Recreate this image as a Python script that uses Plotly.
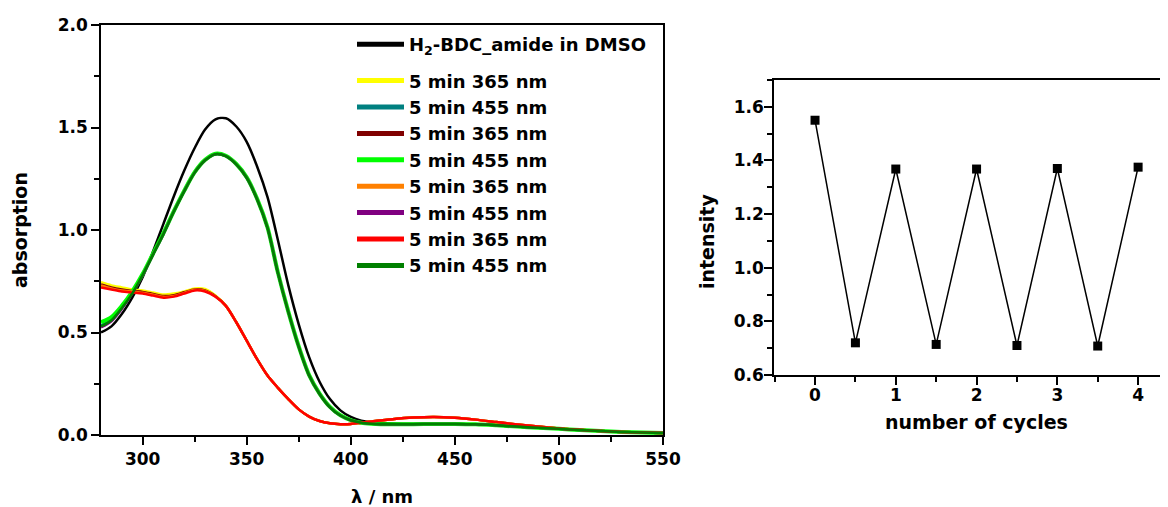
import plotly.graph_objects as go

# ---------------- data ----------------
wavelength = [280, 285, 290, 295, 300, 305, 310, 315, 320, 325, 330, 335, 340, 345, 350,
              355, 360, 365, 370, 375, 380, 385, 390, 395, 400, 405, 410, 420, 430, 440,
              450, 460, 470, 480, 490, 500, 510, 520, 530, 540, 550]

abs_dmso = [0.50, 0.53, 0.59, 0.67, 0.77, 0.895, 1.03, 1.165, 1.29, 1.40, 1.49, 1.54, 1.545, 1.505, 1.43,
            1.31, 1.16, 0.95, 0.73, 0.54, 0.38, 0.26, 0.175, 0.12, 0.088, 0.07, 0.062, 0.056, 0.055, 0.055,
            0.055, 0.052, 0.047, 0.041, 0.035, 0.030, 0.024, 0.019, 0.015, 0.012, 0.010]

abs_365_a = [0.745, 0.73, 0.72, 0.71, 0.705, 0.695, 0.685, 0.69, 0.70, 0.715, 0.712, 0.68, 0.63, 0.55, 0.46,
             0.37, 0.29, 0.23, 0.175, 0.125, 0.09, 0.068, 0.057, 0.053, 0.054, 0.06, 0.066, 0.077, 0.085, 0.088,
             0.084, 0.075, 0.063, 0.051, 0.041, 0.032, 0.025, 0.020, 0.015, 0.012, 0.010]
abs_455_a = [0.535, 0.565, 0.625, 0.695, 0.78, 0.88, 0.98, 1.09, 1.19, 1.28, 1.34, 1.37, 1.36, 1.32, 1.255,
             1.15, 1.01, 0.79, 0.60, 0.43, 0.29, 0.20, 0.135, 0.095, 0.072, 0.06, 0.055, 0.052, 0.053, 0.054,
             0.054, 0.052, 0.047, 0.041, 0.035, 0.030, 0.024, 0.019, 0.015, 0.012, 0.010]
abs_365_b = [0.735, 0.72, 0.71, 0.703, 0.698, 0.688, 0.678, 0.682, 0.696, 0.71, 0.705, 0.677, 0.63, 0.55, 0.46,
             0.37, 0.29, 0.23, 0.175, 0.125, 0.09, 0.068, 0.057, 0.053, 0.054, 0.06, 0.066, 0.077, 0.085, 0.088,
             0.084, 0.075, 0.063, 0.051, 0.041, 0.032, 0.025, 0.020, 0.015, 0.012, 0.010]
abs_455_b = [0.55, 0.575, 0.63, 0.70, 0.785, 0.885, 0.985, 1.092, 1.192, 1.282, 1.342, 1.372, 1.362, 1.322, 1.257,
             1.152, 1.012, 0.792, 0.602, 0.432, 0.292, 0.202, 0.137, 0.096, 0.073, 0.06, 0.055, 0.052, 0.053, 0.054,
             0.054, 0.052, 0.047, 0.041, 0.035, 0.030, 0.024, 0.019, 0.015, 0.012, 0.010]
abs_365_c = [0.73, 0.715, 0.705, 0.70, 0.694, 0.684, 0.674, 0.678, 0.693, 0.708, 0.703, 0.676, 0.63, 0.55, 0.46,
             0.37, 0.29, 0.23, 0.175, 0.125, 0.09, 0.068, 0.057, 0.053, 0.054, 0.06, 0.066, 0.077, 0.085, 0.088,
             0.084, 0.075, 0.063, 0.051, 0.041, 0.032, 0.025, 0.020, 0.015, 0.012, 0.010]
abs_455_c = [0.525, 0.555, 0.615, 0.688, 0.778, 0.88, 0.98, 1.09, 1.19, 1.28, 1.34, 1.37, 1.36, 1.32, 1.255,
             1.15, 1.01, 0.79, 0.60, 0.43, 0.29, 0.20, 0.135, 0.095, 0.072, 0.06, 0.055, 0.052, 0.053, 0.054,
             0.054, 0.052, 0.047, 0.041, 0.035, 0.030, 0.024, 0.019, 0.015, 0.012, 0.010]
abs_365_d = [0.72, 0.71, 0.70, 0.695, 0.69, 0.68, 0.67, 0.675, 0.69, 0.705, 0.70, 0.675, 0.63, 0.55, 0.46,
             0.37, 0.29, 0.23, 0.175, 0.125, 0.09, 0.068, 0.057, 0.053, 0.054, 0.06, 0.066, 0.077, 0.085, 0.088,
             0.084, 0.075, 0.063, 0.051, 0.041, 0.032, 0.025, 0.020, 0.015, 0.012, 0.010]
abs_455_d = [0.53, 0.56, 0.62, 0.69, 0.78, 0.88, 0.98, 1.09, 1.19, 1.28, 1.34, 1.37, 1.36, 1.32, 1.255,
             1.15, 1.01, 0.79, 0.60, 0.43, 0.29, 0.20, 0.135, 0.095, 0.072, 0.06, 0.055, 0.052, 0.053, 0.054,
             0.054, 0.052, 0.047, 0.041, 0.035, 0.030, 0.024, 0.019, 0.015, 0.012, 0.010]

series_names = ["H<sub>2</sub>-BDC_amide in DMSO", "5 min 365 nm", "5 min 455 nm", "5 min 365 nm",
                "5 min 455 nm", "5 min 365 nm", "5 min 455 nm", "5 min 365 nm", "5 min 455 nm"]
series_values = [abs_dmso, abs_365_a, abs_455_a, abs_365_b, abs_455_b, abs_365_c, abs_455_c, abs_365_d, abs_455_d]
series_colors = ["#000000", "#FFFF00", "#008080", "#800000", "#00FF00", "#FF8000", "#800080", "#FF0000", "#008000"]
series_widths = [2.5, 2.5, 2.5, 2.5, 4, 2.5, 2.5, 2.5, 2.5]

cycles = [0, 0.5, 1, 1.5, 2, 2.5, 3, 3.5, 4]
intensity = [1.55, 0.72, 1.368, 0.714, 1.368, 0.71, 1.37, 0.708, 1.375]

# ---------------- figure ----------------
OFF = 8                      # page body margin
W, H = 1168 - OFF, 507 - OFF
FONT = "DejaVu Sans, Liberation Sans, sans-serif"

fig = go.Figure()
for i, (name, vals, col, lw) in enumerate(zip(series_names, series_values, series_colors, series_widths)):
    fig.add_trace(go.Scatter(x=wavelength, y=vals, mode="lines", name=name,
                             legendgroup="ref" if i == 0 else "irr",
                             line=dict(color=col, width=lw, shape="spline", smoothing=0.8),
                             xaxis="x", yaxis="y"))

fig.add_trace(go.Scatter(x=cycles, y=intensity, mode="lines+markers", showlegend=False,
                         line=dict(color="black", width=1.5),
                         marker=dict(symbol="square", size=9, color="black"),
                         xaxis="x2", yaxis="y2"))

def px_x(p):
    return (p - OFF) / W

def px_y(p):
    return 1 - (p - OFF) / H

axis_common = dict(showgrid=False, zeroline=False, showline=True, linecolor="black", linewidth=1.5,
                   ticks="outside", ticklen=8, tickwidth=1.5, tickcolor="black", automargin=False,
                   tickfont=dict(family=FONT, size=17, color="black", weight="bold"))
title_font = dict(family=FONT, size=19, color="black", weight="bold")

fig.update_layout(
    template="none",
    width=W, height=H,
    margin=dict(l=0, r=0, t=0, b=0, autoexpand=False),
    paper_bgcolor="white", plot_bgcolor="white",
    showlegend=True,
    legend=dict(x=px_x(352), y=px_y(26), xanchor="left", yanchor="top",
                bgcolor="rgba(0,0,0,0)", borderwidth=0, itemwidth=47,
                font=dict(family=FONT, size=18, color="black", weight="bold"),
                tracegroupgap=10, itemsizing="constant"),
    xaxis=dict(domain=[px_x(101), px_x(663)], range=[280, 550], tick0=300, dtick=50,
               mirror=True, anchor="y",
               minor=dict(dtick=25, tick0=300, ticks="outside", ticklen=5, tickwidth=1.5, tickcolor="black"),
               **axis_common),
    yaxis=dict(domain=[px_y(435), px_y(25)], range=[0, 2], dtick=0.5, tickformat=".1f",
               mirror=True, anchor="x",
               minor=dict(dtick=0.25, ticks="outside", ticklen=5, tickwidth=1.5, tickcolor="black"),
               **axis_common),
    xaxis2=dict(domain=[px_x(774), 1.0], range=[-0.508, 4.37], tick0=0, dtick=1,
                mirror=True, anchor="y2", ticklabelstandoff=-4,
                minor=dict(dtick=0.5, tick0=0, ticks="outside", ticklen=5, tickwidth=1.5, tickcolor="black"),
                **axis_common),
    yaxis2=dict(domain=[px_y(375), px_y(80)], range=[0.6, 1.7], dtick=0.2, tick0=0.6, tickformat=".1f",
                mirror=False, anchor="x2", ticklabelstandoff=-3,
                minor=dict(dtick=0.1, tick0=0.6, ticks="outside", ticklen=5, tickwidth=1.5, tickcolor="black"),
                **axis_common),
    annotations=[
        dict(text="λ / nm", x=px_x(382), y=px_y(496), xref="paper", yref="paper",
             xanchor="center", yanchor="middle", showarrow=False,
             font=dict(family=FONT, size=18, color="black", weight="bold")),
        dict(text="absorption", x=px_x(20), y=px_y(230), xref="paper", yref="paper", textangle=-90,
             xanchor="center", yanchor="middle", showarrow=False, font=title_font),
        dict(text="number of cycles", x=px_x(976), y=px_y(422), xref="paper", yref="paper",
             xanchor="center", yanchor="middle", showarrow=False, font=title_font),
        dict(text="intensity", x=px_x(707), y=px_y(242), xref="paper", yref="paper", textangle=-90,
             xanchor="center", yanchor="middle", showarrow=False, font=title_font),
    ],
)

fig.write_html("out.html")
